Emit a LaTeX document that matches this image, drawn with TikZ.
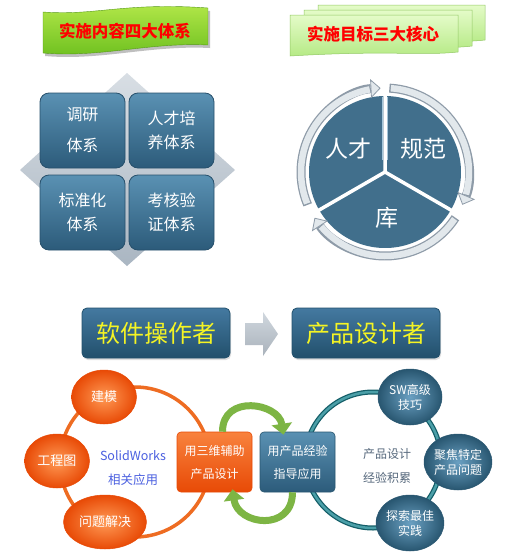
\documentclass[tikz,border=0pt]{standalone}
\usepackage{fontspec}
\newfontfamily\cjk{Noto Sans CJK SC}
\usetikzlibrary{shapes.geometric,arrows.meta,shadows}
\definecolor{bannerA}{HTML}{B4E84A}
\definecolor{bannerB}{HTML}{6CBF1E}
\definecolor{paperA}{HTML}{E4FBC8}
\definecolor{paperB}{HTML}{B6EA86}
\definecolor{paperE}{HTML}{92C864}
\definecolor{quadA}{HTML}{5A91B3}
\definecolor{quadB}{HTML}{2C5B7A}
\definecolor{quadE}{HTML}{27506C}
\definecolor{diamA}{HTML}{D8DEE4}
\definecolor{diamB}{HTML}{AAB6C2}
\definecolor{pie}{HTML}{416F8C}
\definecolor{ringout}{HTML}{8E9BA8}
\definecolor{ringin}{HTML}{E2E8EC}
\definecolor{orA}{HTML}{FF9A55}
\definecolor{orB}{HTML}{E84A06}
\definecolor{orring}{HTML}{EE6C22}
\definecolor{blA}{HTML}{6AA0C2}
\definecolor{blB}{HTML}{285670}
\definecolor{teal}{HTML}{1E8792}
\definecolor{tealD}{HTML}{145E68}
\definecolor{grn}{HTML}{7DB544}
\definecolor{swblue}{HTML}{4A5FE0}
\definecolor{gtext}{HTML}{56687C}
\definecolor{ttlA}{HTML}{4479A0}
\definecolor{ttlB}{HTML}{22506C}
\definecolor{arrg}{HTML}{BCC6D0}
\definecolor{ylw}{HTML}{F4F424}
\begin{document}
\begin{tikzpicture}[x=1pt,y=-1pt,
  quad/.style={rounded corners=9pt, draw=quadE, line width=0.8pt, top color=quadA, bottom color=quadB,
     minimum width=85pt, minimum height=75pt, text=white, align=center,
     font=\cjk\fontsize{16}{24}\selectfont},
  ttl/.style={rounded corners=5pt, draw=ttlB, line width=0.8pt, top color=ttlA, bottom color=ttlB,
     minimum width=148pt, minimum height=50pt, text=ylw, font=\cjk\fontsize{24}{26}\selectfont,
     drop shadow={opacity=0.25, shadow xshift=1pt, shadow yshift=-2pt}},
  oball/.style={ellipse, draw=orB, line width=0.5pt, inner color=orA, outer color=orB,
     minimum width=65pt, minimum height=54pt, text=white, align=center,
     font=\cjk\fontsize{13}{16}\selectfont},
  bball/.style={ellipse, draw=blB, line width=0.5pt, inner color=blA, outer color=blB,
     minimum width=64pt, minimum height=56pt, text=white, align=center, inner sep=0pt,
     font=\cjk\fontsize{12}{15}\selectfont},
  orect/.style={rounded corners=4pt, draw=orB, line width=0.6pt, top color=orA!70!orB, bottom color=orB,
     minimum width=75pt, minimum height=60pt, text=white, align=center,
     font=\cjk\fontsize{12}{23}\selectfont},
  brect/.style={rounded corners=4pt, draw=blB, line width=0.6pt, top color=quadA, bottom color=quadB,
     minimum width=75pt, minimum height=60pt, text=white, align=center,
     font=\cjk\fontsize{12}{23}\selectfont},
  garrow/.style={line width=7pt, grn, -{Triangle[length=11pt,width=20pt]}},
  ringarc/.style={line width=9pt, ringout, -{Triangle[length=10pt,width=19pt,fill=ringin,line width=0.8pt]}},
  ringfill/.style={line width=6.5pt, ringin},
  bantext/.style={text=red, font=\cjk\bfseries\fontsize{16.5}{17}\selectfont}
]
\useasboundingbox[fill=white] (0,0) rectangle (515,555);

% ---------- green wavy banner ----------
\fill[black!25] (45,15) .. controls (95,19) and (125,5) .. (210,11) -- (210,48)
   .. controls (150,45) and (100,61) .. (45,56) -- cycle;
\shade[top color=bannerA, bottom color=bannerB, draw=bannerB!80!black, line width=0.4pt]
   (43,12) .. controls (95,16) and (125,2) .. (208,8) -- (208,45)
   .. controls (150,42) and (100,58) .. (43,53) -- cycle;
\node[bantext] (t1) at (125,31) {实施内容四大体系};

% ---------- stacked papers ----------
\shade[top color=paperA, bottom color=paperB, draw=paperE, line width=0.5pt]
   (318,5) -- (485,5) -- (485,40) .. controls (450,44) and (420,38) .. (318,42) -- cycle;
\shade[top color=paperA, bottom color=paperB, draw=paperE, line width=0.5pt]
   (304,10) -- (472,10) -- (472,46) .. controls (440,50) and (410,43) .. (304,48) -- cycle;
\shade[top color=paperA, bottom color=paperB, draw=paperE, line width=0.5pt]
   (290,15) -- (458,15) -- (458,52) .. controls (420,56) and (390,50) .. (290,56) -- cycle;
\node[bantext] (t2) at (373,34) {实施目标三大核心};

% ---------- diamond + quadrants ----------
\shade[top color=diamA, bottom color=diamB] (127,73) -- (235,170) -- (127,266) -- (20,170) -- cycle;
\node[quad] (q1) at (82.5,130.5) {调研\\[7pt]体系};
\node[quad] (q2) at (171.5,130.5) {人才培\\养体系};
\node[quad] (q3) at (82.5,212.5) {标准化\\体系};
\node[quad] (q4) at (171.5,212.5) {考核验\\证体系};

% ---------- pie with ring arrows ----------
\begin{scope}[shift={(385,172)}, y=1pt]
  \fill[pie] (0,0) -- (90:76) arc[start angle=90, end angle=210, radius=76] -- cycle;
  \fill[pie] (0,0) -- (-30:76) arc[start angle=-30, end angle=90, radius=76] -- cycle;
  \fill[pie] (0,0) -- (210:76) arc[start angle=210, end angle=330, radius=76] -- cycle;
  \draw[white, line width=3.5pt] (0,0) -- (90:77) (0,0) -- (210:77) (0,0) -- (330:77);
  \draw[blA!60!white, line width=0.8pt] (-2.6,12) -- (-2.6,75) (2.6,12) -- (2.6,75);
  \draw[ringarc] (203:84) arc[start angle=203, end angle=93, radius=84];
  \draw[ringfill] (202:84) arc[start angle=202, end angle=100.5, radius=84];
  \draw[ringarc] (87:84) arc[start angle=87, end angle=-23, radius=84];
  \draw[ringfill] (86:84) arc[start angle=86, end angle=-15.5, radius=84];
  \draw[ringarc] (-33:84) arc[start angle=-33, end angle=-147, radius=84];
  \draw[ringfill] (-34:84) arc[start angle=-34, end angle=-139.5, radius=84];
\end{scope}
\node[text=white, font=\cjk\fontsize{23}{24}\selectfont] (p1) at (348,149) {人才};
\node[text=white, font=\cjk\fontsize{23}{24}\selectfont] (p2) at (423,149) {规范};
\node[text=white, font=\cjk\fontsize{23}{24}\selectfont] (p3) at (387,218) {库};

% ---------- titles ----------
\node[ttl] (op) at (156,333) {软件操作者};
\node[ttl] (pd) at (366,333) {产品设计者};
\shade[top color=arrg!70!white, bottom color=arrg!90!black]
  (245,323) -- (263,323) -- (263,312) -- (278,334) -- (263,356) -- (263,345) -- (245,345) -- cycle;

% ---------- left ring ----------
\draw[orring, line width=3.5pt] (135,462) circle[radius=75];
\node[oball] (b1) at (104,397) {建模};
\node[oball] (b2) at (57,461) {工程图};
\node[oball] (b3) at (105,522) {问题解决};
\node[text=swblue, align=center, font=\cjk\fontsize{12.5}{24}\selectfont] (sw) at (133,468) {SolidWorks\\相关应用};

% ---------- right ring ----------
\draw[tealD, line width=5pt] (373,460) circle[radius=68];
\draw[teal!80!white, line width=2.5pt] (373,460) circle[radius=68];
\node[bball] (c1) at (410,397) {SW高级\\技巧};
\node[bball] (c2) at (458,462) {聚焦特定\\产品问题};
\node[bball] (c3) at (410,523) {探索最佳\\实践};
\node[text=gtext, align=center, font=\cjk\fontsize{12}{24}\selectfont] (ex) at (387,466) {产品设计\\经验积累};

% ---------- middle boxes ----------
\node[orect] (m1) at (214.5,462) {用三维辅助\\产品设计};
\node[brect] (m2) at (297.5,462) {用产品经验\\指导应用};

\coordinate (a1s) at ([xshift=8pt]m1.north);
\coordinate (a1e) at ([xshift=-14pt,yshift=-3pt]m2.north);
\coordinate (a2s) at ([xshift=-5pt]m2.south);
\coordinate (a2e) at ([xshift=18pt,yshift=3pt]m1.south);
\draw[garrow] (a1s) .. controls ++(0,-38) and ++(-5,-32) .. (a1e);
\draw[garrow] (a2s) .. controls ++(0,40) and ++(5,36) .. (a2e);
\end{tikzpicture}
\end{document}
